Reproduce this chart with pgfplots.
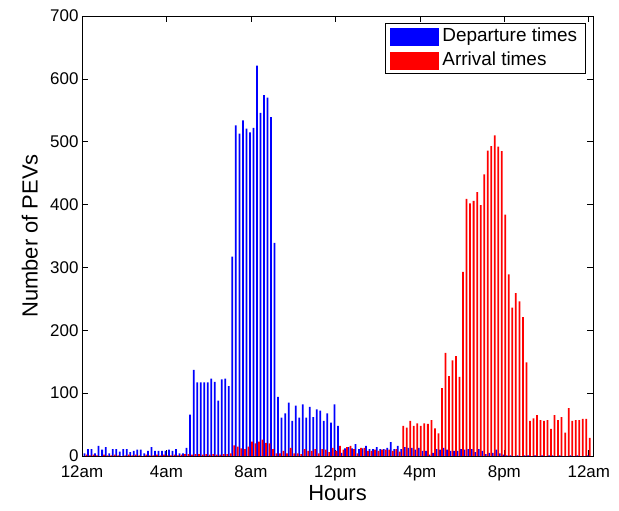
\documentclass[border=0pt]{standalone}
\usepackage{fontspec}
\setmainfont{Liberation Sans}
\usepackage{pgfplots}
\usepackage{pgfplotstable}
\pgfplotsset{compat=1.18}

% 10-minute bins, k = 1..144 (k/6 hours after midnight)
\pgfplotstableread{
k dep arr
1 4 2
2 11 1
3 11 2
4 4 1
5 16 0
6 10 2
7 14 1
8 4 1
9 11 2
10 11 1
11 7 0
12 11 1
13 11 2
14 6 1
15 8 2
16 10 1
17 10 0
18 4 2
19 8 1
20 14 1
21 8 2
22 8 1
23 8 2
24 8 1
25 10 1
26 8 2
27 11 1
28 4 2
29 4 3
30 13 3
31 66 2
32 137 3
33 117 3
34 117 2
35 117 3
36 117 2
37 123 3
38 118 2
39 88 2
40 122 3
41 123 3
42 111 4
43 317 17
44 526 15
45 513 12
46 534 11
47 521 15
48 515 23
49 522 20
50 621 23
51 546 26
52 574 21
53 570 20
54 539 11
55 339 4
56 94 4
57 61 8
58 68 4
59 85 13
60 56 4
61 80 4
62 61 3
63 82 11
64 61 8
65 78 8
66 62 11
67 74 4
68 72 11
69 56 10
70 68 6
71 53 13
72 82 8
73 48 16
74 5 10
75 12 14
76 14 16
77 12 11
78 19 4
79 11 13
80 12 13
81 16 8
82 11 8
83 11 10
84 14 8
85 11 10
86 11 10
87 13 10
88 22 8
89 11 11
90 16 7
91 11 48
92 14 45
93 13 56
94 13 48
95 10 52
96 13 48
97 8 52
98 8 51
99 2 57
100 5 44
101 11 36
102 10 108
103 13 164
104 10 127
105 8 152
106 8 159
107 8 126
108 11 293
109 10 409
110 11 402
111 11 406
112 6 420
113 11 399
114 8 448
115 3 486
116 5 493
117 5 510
118 10 492
119 4 485
120 2 384
121 1 289
122 1 236
123 0 259
124 1 246
125 0 221
126 1 149
127 1 56
128 0 60
129 1 65
130 0 57
131 1 56
132 0 57
133 1 43
134 1 65
135 0 57
136 1 62
137 0 37
138 0 76
139 1 56
140 0 57
141 1 57
142 0 59
143 0 59
144 1 29
}\pevdata

\begin{document}
\begin{tikzpicture}
\path[use as bounding box] (-82bp,-55bp) rectangle (537bp,456bp);
\begin{axis}[
    at={(0,0)}, anchor=south west,
    scale only axis,
    width=511bp, height=440bp,
    xmin=0, xmax=145.2,
    ymin=0, ymax=700,
    xtick={0,24,48,72,96,120,144},
    xticklabels={12am,4am,8am,12pm,4pm,8pm,12am},
    ytick={0,100,200,300,400,500,600,700},
    tick align=inside,
    tick pos=both,
    major tick length=6bp,
    axis line style={line width=0.8bp},
    every tick/.style={black, line width=0.6bp},
    /pgf/number format/assume math mode=true,
    ticklabel style={font=\fontsize{17}{17}\selectfont},
    x tick label style={yshift=-6bp},
    label style={font=\fontsize{22}{22}\selectfont},
    xlabel={Hours},
    ylabel={Number of PEVs},
    x label style={at={(axis description cs:0.5,-0.084)}, anchor=center},
    y label style={at={(axis description cs:-0.102,0.5)}, anchor=center},
    legend style={
        at={(rel axis cs:0.986,0.983)}, anchor=north east,
        draw=black, line width=0.6bp,
        font=\fontsize{19}{19}\selectfont,
        inner xsep=5.5bp, inner ysep=1bp,
        row sep=1bp,
        nodes={inner xsep=3bp, inner ysep=3bp, text height=13.5bp, text depth=4bp},
    },
    legend cell align=left,
]
\addplot[ybar, bar width=0.5, bar shift=-0.28, fill=blue, draw=none,
    legend image code/.code={\fill[blue] (0bp,-9bp) rectangle (49bp,9bp);}]
    table[x=k, y=dep] {\pevdata};
\addlegendentry{Departure times}
\addplot[ybar, bar width=0.5, bar shift=0.28, fill=red, draw=none,
    legend image code/.code={\fill[red] (0bp,-9bp) rectangle (49bp,9bp);}]
    table[x=k, y=arr] {\pevdata};
\addlegendentry{Arrival times}
\end{axis}
\end{tikzpicture}
\end{document}
